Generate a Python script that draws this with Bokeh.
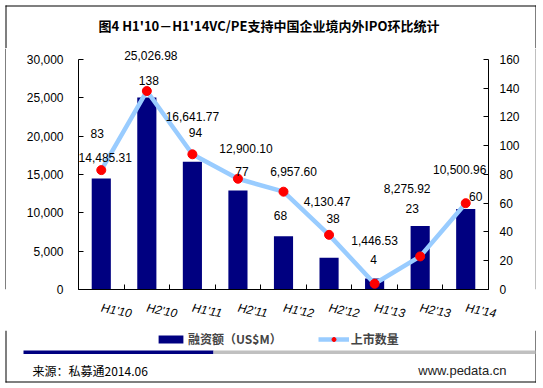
from bokeh.plotting import figure
from bokeh.layouts import column, row
from bokeh.models import (Range1d, LinearAxis, FixedTicker, NumeralTickFormatter, ColumnDataSource,
                          LabelSet, Label, Legend, LegendItem, BoxAnnotation, CustomJSTickFormatter)
from bokeh.core.properties import value
from bokeh.embed import file_html
from bokeh.resources import INLINE

# ---------------- data ----------------
categories = ["H1'10", "H2'10", "H1'11", "H2'11", "H1'12", "H2'12", "H1'13", "H2'13", "H1'14"]
amounts = [14485.31, 25026.98, 16641.77, 12900.10, 6957.60, 4130.47, 1446.53, 8275.92, 10500.96]
counts = [83, 138, 94, 77, 68, 38, 4, 23, 60]
left_ticks = [0, 5000, 10000, 15000, 20000, 25000, 30000]
right_ticks = [0, 20, 40, 60, 80, 100, 120, 140, 160]
title_text = "图4 H1'10－H1'14VC/PE支持中国企业境内外IPO环比统计"
bar_name = "融资额（US$M）"
line_name = "上市数量"
source_text = "来源：私募通2014.06"
site_text = "www.pedata.cn"

# ---------------- layout / style (not data) ----------------
amt_dx = [4, 4, 0, 8, 10, -2, 0, -13, -6]
amt_dy = [21, 42, 45, 42, 65, 56, 38, 38, 39]
cnt_dx = [-4, 2, 3, 4, -3, 4, -1, -8, 10]
cnt_dy = [37, 11, 22, 7, -24, 16, 24, 48, 7]

LAT = "Liberation Sans"
CJK = "Noto Sans CJK SC"
NAVY = "#000080"
LIGHT = "#99CCFF"
W = 536
TOP_H, MAIN_H, BOT_H = 48, 282, 54
FRAME_TOP_EXTRA = (292 - 48) / (292 - 59)   # frame taller than the axis span (room for labels)


def blank(width, height):
    f = figure(width=width, height=height, x_range=Range1d(0, width), y_range=Range1d(height, 0),
               output_backend="svg", toolbar_location=None, min_border=0)
    f.axis.visible = False
    f.grid.visible = False
    f.outline_line_color = None
    f.background_fill_color = "white"
    f.border_fill_color = "white"
    return f


def box(f, l, r, t, b, color):
    f.add_layout(BoxAnnotation(left=l, right=r, top=t, bottom=b, fill_color=color,
                               fill_alpha=1, line_color=None))


# ---------------- top strip: title ----------------
top = blank(W, TOP_H)
box(top, 5, W, 5, 6, "black")
box(top, 5, 6, 5, TOP_H, "black")
box(top, W - 1, W, 5, TOP_H, "black")
top.add_layout(Label(x=268.5, y=25, text=title_text, text_align="center", text_baseline="middle",
                     text_font_size="13px", text_font_style="bold", text_font=CJK,
                     text_color="black"))

# ---------------- main chart ----------------
xs = [i + 0.5 for i in range(len(categories))]

p = figure(width=W - 7, height=MAIN_H, x_range=Range1d(0, len(categories)),
           y_range=Range1d(0, left_ticks[-1] * FRAME_TOP_EXTRA),
           output_backend="svg", toolbar_location=None,
           min_border_left=72, min_border_right=47, min_border_top=0, min_border_bottom=38)
p.xgrid.visible = False
p.ygrid.visible = False
p.outline_line_color = None
p.background_fill_color = "white"
p.border_fill_color = "white"

ya = p.yaxis[0]
ya.ticker = FixedTicker(ticks=left_ticks)
ya.bounds = (left_ticks[0], left_ticks[-1])
ya.formatter = NumeralTickFormatter(format="0,0")
ya.major_tick_in = 5
ya.major_tick_out = 0
ya.minor_tick_line_color = None
ya.major_label_standoff = 15
ya.major_label_text_font = LAT
ya.major_label_text_font_size = "12px"
ya.major_label_text_color = "black"
ya.axis_line_color = "black"

p.extra_y_ranges = {"n": Range1d(0, right_ticks[-1] * FRAME_TOP_EXTRA)}
ra = LinearAxis(y_range_name="n", ticker=FixedTicker(ticks=right_ticks),
                bounds=(right_ticks[0], right_ticks[-1]))
ra.major_tick_in = 5
ra.major_tick_out = 0
ra.minor_tick_line_color = None
ra.major_label_standoff = 11
ra.major_label_text_font = LAT
ra.major_label_text_font_size = "12px"
ra.major_label_text_color = "black"
p.add_layout(ra, "right")

xa = p.xaxis[0]
xa.ticker = FixedTicker(ticks=xs, minor_ticks=list(range(len(categories) + 1)))
xa.formatter = CustomJSTickFormatter(args=dict(labels=categories),
                                     code="return labels[Math.floor(tick)];")
xa.major_tick_in = 0
xa.major_tick_out = 0
xa.minor_tick_in = 5
xa.minor_tick_out = 0
xa.major_label_orientation = -0.2
xa.major_label_standoff = 18
xa.major_label_text_font = LAT
xa.major_label_text_font_size = "12px"
xa.major_label_text_font_style = "italic"
xa.major_label_text_color = "black"

src = ColumnDataSource(dict(x=xs, amt=amounts, cnt=counts,
                            amt_txt=["{:,.2f}".format(v) for v in amounts],
                            cnt_txt=[str(v) for v in counts],
                            adx=amt_dx, ady=amt_dy, cdx=cnt_dx, cdy=cnt_dy))

p.vbar(x="x", top="amt", width=0.42, source=src, fill_color=NAVY, line_color=None)
p.line(x="x", y="cnt", source=src, y_range_name="n", line_color=LIGHT, line_width=4.5)
p.scatter(x="x", y="cnt", source=src, y_range_name="n", size=9, marker="circle",
          fill_color="red", line_color="red")

p.add_layout(LabelSet(x="x", y="amt", text="amt_txt", source=src, x_offset="adx", y_offset="ady",
                      text_align="center", text_baseline="middle", text_font_size="12px",
                      text_font=value(LAT), text_color="black"))
p.add_layout(LabelSet(x="x", y="cnt", text="cnt_txt", source=src, y_range_name="n",
                      x_offset="cdx", y_offset="cdy",
                      text_align="center", text_baseline="middle", text_font_size="12px",
                      text_font=value(LAT), text_color="black"))

lstrip = blank(6, MAIN_H)
box(lstrip, 5, 6, 0, MAIN_H, "black")
rstrip = blank(1, MAIN_H)
box(rstrip, 0, 1, 0, MAIN_H, "black")

# ---------------- bottom strip: legend, separator, footer ----------------
bot = blank(W, BOT_H)
box(bot, 5, 6, 0, 52, "black")
box(bot, W - 1, W, 0, 52, "black")
box(bot, 5, W, 51, 52, "black")
box(bot, 23, 213, 20, 23.5, NAVY)
box(bot, 213, W - 1, 20, 23.5, "#C0C0C0")

# legend keys: same series, hidden in this strip (only their legend glyphs are shown)
lg_bar = bot.vbar(x="x", top="amt", width=0.42, source=src, fill_color=NAVY, line_color=None,
                  visible=False)
lg_line = bot.line(x="x", y="cnt", source=src, line_color=LIGHT, line_width=4.5, visible=False)
lg_pt = bot.scatter(x="x", y="cnt", source=src, size=9, marker="circle", fill_color="red",
                    line_color="red", visible=False)
legend = Legend(items=[LegendItem(label=bar_name, renderers=[lg_bar]),
                       LegendItem(label=line_name, renderers=[lg_line, lg_pt])],
                orientation="horizontal", location=(155, 37), border_line_color=None,
                background_fill_alpha=0, padding=0, margin=0, spacing=36,
                glyph_width=31, glyph_height=10, label_standoff=2, click_policy="none",
                label_text_font_size="12px", label_text_font_style="bold", label_text_font=CJK)
bot.add_layout(legend, "center")

bot.add_layout(Label(x=32, y=40, text=source_text, text_align="left", text_baseline="middle",
                     text_font_size="12px", text_font=CJK, text_color="black"))
bot.add_layout(Label(x=506, y=40, text=site_text, text_align="right", text_baseline="middle",
                     text_font_size="13px", text_font=LAT, text_color="#222222"))

layout = column(top, row(lstrip, p, rstrip, spacing=0), bot, spacing=0)

open("out.html", "w").write(file_html(layout, INLINE))
